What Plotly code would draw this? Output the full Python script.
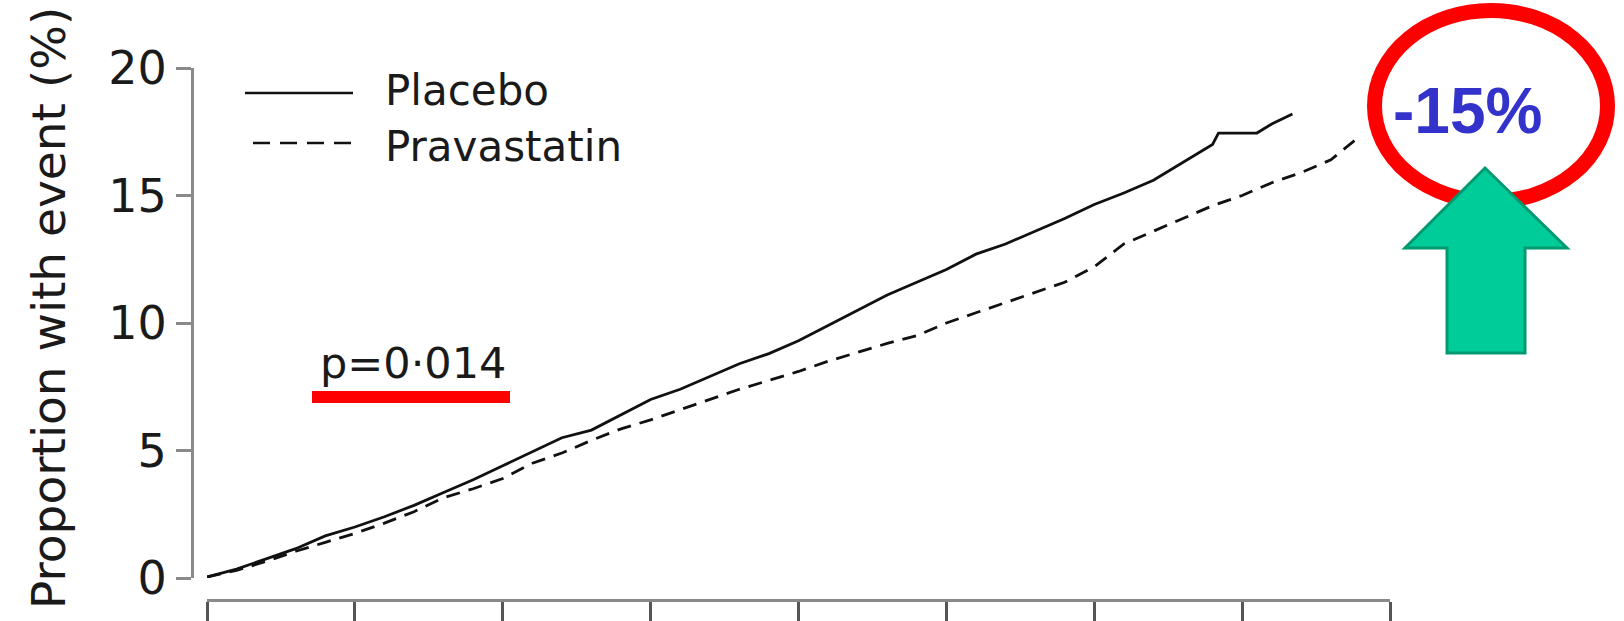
import plotly.graph_objects as go

# ---- data (years of follow-up, % with event) ----
placebo_t = [0.00, 0.10, 0.20, 0.30, 0.40, 0.50, 0.60, 0.70, 0.80, 0.90,
             1.00, 1.10, 1.20, 1.30, 1.40, 1.50, 1.60, 1.70, 1.80, 1.90,
             2.00, 2.10, 2.20, 2.30, 2.40, 2.50, 2.60, 2.70, 2.80, 2.90,
             3.00, 3.10, 3.20, 3.30, 3.40, 3.42, 3.55, 3.60, 3.67]
placebo_v = [0.04, 0.35, 0.75, 1.15, 1.65, 2.00, 2.40, 2.85, 3.35, 3.85,
             4.40, 4.95, 5.50, 5.80, 6.40, 7.00, 7.40, 7.90, 8.40, 8.80,
             9.30, 9.90, 10.50, 11.10, 11.60, 12.10, 12.70, 13.10, 13.60, 14.10,
             14.65, 15.10, 15.60, 16.30, 17.00, 17.45, 17.45, 17.80, 18.20]

prava_t = [0.00, 0.10, 0.20, 0.30, 0.40, 0.50, 0.60, 0.70, 0.80, 0.90,
           1.00, 1.10, 1.20, 1.30, 1.40, 1.50, 1.60, 1.70, 1.80, 1.90,
           2.00, 2.10, 2.20, 2.30, 2.40, 2.50, 2.60, 2.70, 2.80, 2.90,
           3.00, 3.10, 3.20, 3.30, 3.40, 3.50, 3.60, 3.70, 3.80, 3.89]
prava_v = [0.04, 0.30, 0.65, 1.05, 1.40, 1.75, 2.15, 2.60, 3.15, 3.50,
           3.90, 4.50, 4.90, 5.40, 5.85, 6.20, 6.60, 7.00, 7.40, 7.75,
           8.10, 8.50, 8.85, 9.20, 9.50, 10.00, 10.40, 10.80, 11.20, 11.60,
           12.20, 13.10, 13.60, 14.10, 14.60, 15.00, 15.50, 15.90, 16.40, 17.25]

x_ticks = [0, 0.5, 1, 1.5, 2, 2.5, 3, 3.5, 4]
y_ticks = [0, 5, 10, 15, 20]
series_names = ["Placebo", "Pravastatin"]
y_title = "Proportion with event (%)"
p_text = "p=0\u00b7014"
effect_text = "-15%"

# ---- layout helpers (window pixel -> paper); page body margin removed below ----
W, H = 1624, 621
def px(x):
    return x / W
def py(y):
    return 1 - y / H

FONT = "DejaVu Sans"
INK = "#1a1a1a"

fig = go.Figure()
fig.add_trace(go.Scatter(x=placebo_t, y=placebo_v, mode="lines", name=series_names[0],
                         line=dict(color="#111111", width=2.8), showlegend=False))
fig.add_trace(go.Scatter(x=prava_t, y=prava_v, mode="lines", name=series_names[1],
                         line=dict(color="#111111", width=2.8, dash="14px,9px"), showlegend=False))

fig.update_layout(
    width=W, height=H, showlegend=False,
    margin=dict(l=0, r=0, t=0, b=0, pad=0, autoexpand=False),
    paper_bgcolor="white", plot_bgcolor="white",
    xaxis=dict(domain=[px(207), px(1390)], range=[0, 4], tickvals=x_ticks,
               showticklabels=False, showline=True, linecolor="#8a8a8a", linewidth=3,
               ticks="outside", ticklen=26, tickwidth=3, tickcolor="#555555",
               anchor="free", position=py(600), showgrid=False, zeroline=False,
               automargin=False),
    yaxis=dict(domain=[py(578), py(68)], range=[0, 20], tickvals=y_ticks,
               showline=True, linecolor="#8a8a8a", linewidth=3,
               ticks="outside", ticklen=15, tickwidth=3, tickcolor="#8a8a8a",
               tickfont=dict(family=FONT, size=46, color=INK),
               anchor="free", position=px(192), showgrid=False, zeroline=False,
               automargin=False),
)

shapes = []
# legend
shapes.append(dict(type="line", xref="paper", yref="paper", x0=px(245), x1=px(353),
                   y0=py(93), y1=py(93), line=dict(color="#111111", width=2.5)))
shapes.append(dict(type="line", xref="paper", yref="paper", x0=px(253), x1=px(353),
                   y0=py(143), y1=py(143), line=dict(color="#111111", width=2.5, dash="17px,10px")))
# red underline
shapes.append(dict(type="rect", xref="paper", yref="paper", x0=px(312), x1=px(510),
                   y0=py(403), y1=py(391), fillcolor="#ff0000", line=dict(width=0)))
# red ellipse
shapes.append(dict(type="circle", xref="paper", yref="paper", x0=px(1374.5), x1=px(1607.5),
                   y0=py(201.5), y1=py(10.5), line=dict(color="#ff0000", width=15)))
# green arrow
pts = [(1485, 168), (1567, 248), (1525, 248), (1525, 353), (1447, 353), (1447, 248), (1405, 248)]
path = "M " + " L ".join(f"{px(a):.5f},{py(b):.5f}" for a, b in pts) + " Z"
shapes.append(dict(type="path", xref="paper", yref="paper", path=path,
                   fillcolor="#00cc99", line=dict(color="#009970", width=3)))
fig.update_layout(shapes=shapes)

ann = []
ann.append(dict(text=series_names[0], x=px(383), y=py(91), xref="paper", yref="paper",
                xanchor="left", yanchor="middle", showarrow=False,
                font=dict(family=FONT, size=42, color=INK)))
ann.append(dict(text=series_names[1], x=px(383), y=py(147), xref="paper", yref="paper",
                xanchor="left", yanchor="middle", showarrow=False,
                font=dict(family=FONT, size=42, color=INK)))
ann.append(dict(text=p_text, x=px(318), y=py(363), xref="paper", yref="paper",
                xanchor="left", yanchor="middle", showarrow=False,
                font=dict(family=FONT, size=43, color=INK)))
ann.append(dict(text=y_title, x=px(48), y=py(308), xref="paper", yref="paper",
                xanchor="center", yanchor="middle", textangle=-90, showarrow=False,
                font=dict(family=FONT, size=47, color=INK)))
ann.append(dict(text="<b>" + effect_text + "</b>", x=px(1467), y=py(111), xref="paper", yref="paper",
                xanchor="center", yanchor="middle", showarrow=False,
                font=dict(family="Liberation Sans", size=64, color="#3333cc")))
fig.update_layout(annotations=ann)

fig.write_html("out.html",
               config={"displayModeBar": False},
               post_script="document.body.style.margin='0px';document.body.style.overflow='hidden';")
